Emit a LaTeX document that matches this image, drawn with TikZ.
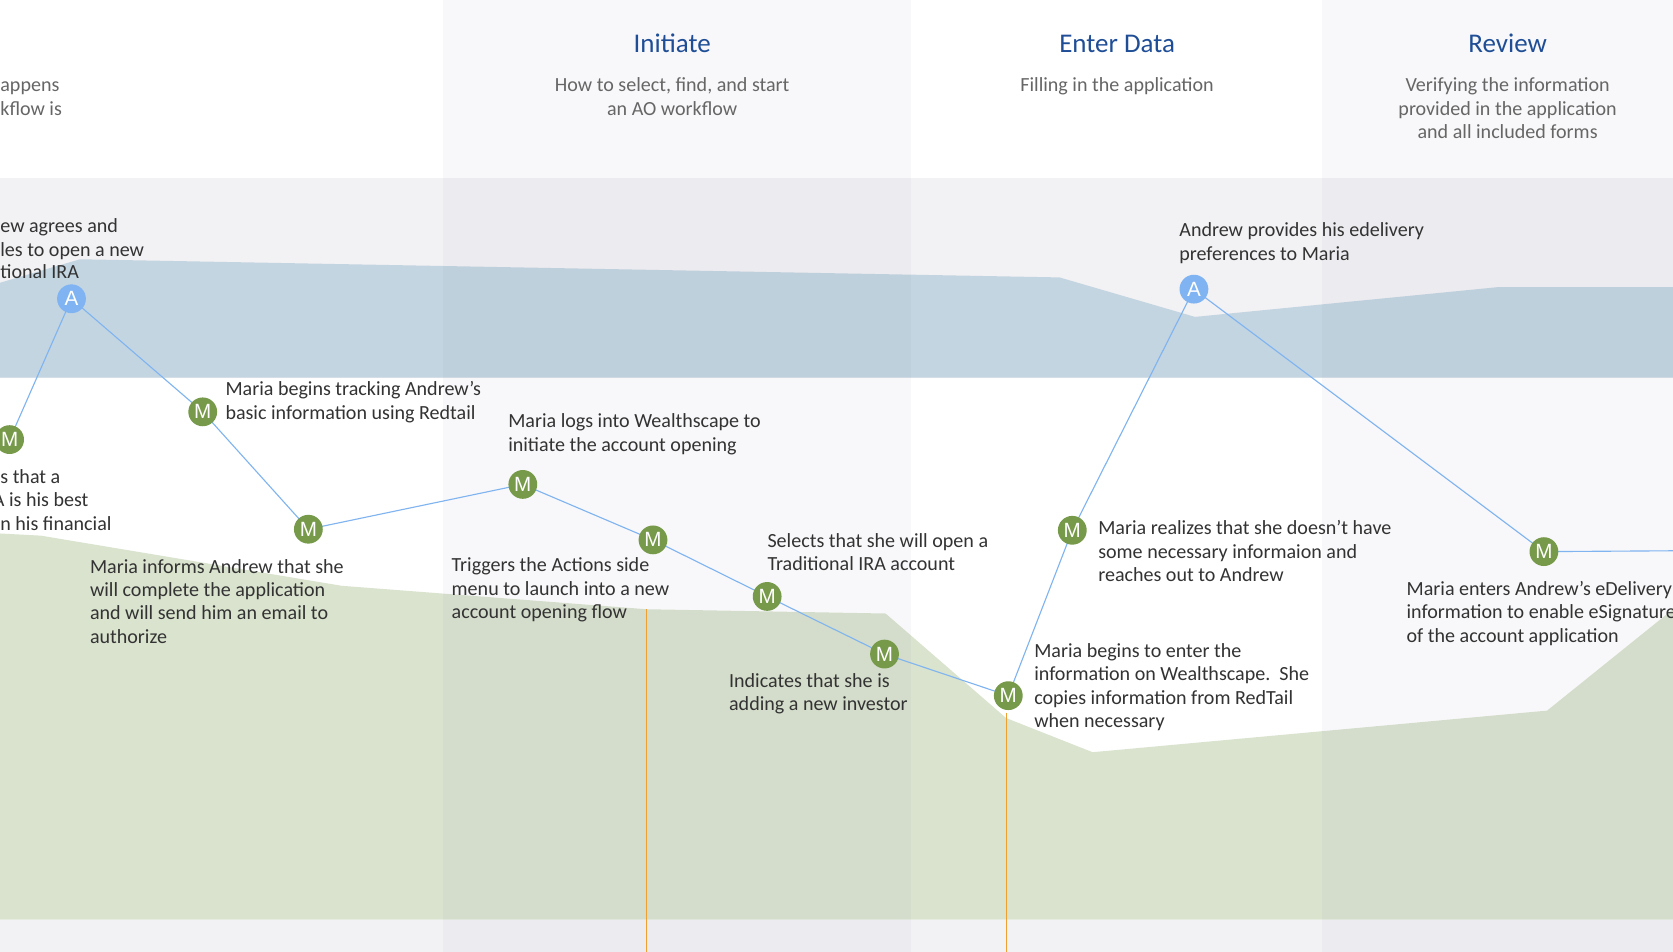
\documentclass[tikz,border=0pt]{standalone}
\usepackage{fontspec}
\setmainfont{Carlito}
\newfontfamily\mfont{Liberation Sans}
\definecolor{lanegray}{HTML}{F2F1F4}
\definecolor{laneblue}{HTML}{C3D5E1}
\definecolor{lanegreen}{HTML}{D9E3CE}
\definecolor{colshade}{HTML}{6E6E8C}
\definecolor{mgreen}{HTML}{76994A}
\definecolor{ablue}{HTML}{7FB3F2}
\definecolor{linkblue}{HTML}{80B4F0}
\definecolor{txt}{HTML}{333333}
\definecolor{subgray}{HTML}{666666}
\definecolor{ttlblue}{HTML}{1F4E96}
\definecolor{orangeline}{HTML}{F0A030}
\pgfdeclarelayer{back}
\pgfdeclarelayer{lines}
\pgfsetlayers{back,lines,main}
\begin{document}
\begin{tikzpicture}[x=0.02cm,y=-0.02cm,
  body/.style={font=\fontsize{10.7}{12.5}\selectfont, text=txt, align=left, inner sep=0pt, anchor=base west},
  cutl/.style={font=\fontsize{10.7}{12.5}\selectfont, text=subgray, inner sep=0pt, anchor=base west},
  subt/.style={font=\fontsize{10.7}{12.5}\selectfont, text=subgray, align=center, inner sep=0pt, anchor=base},
  ttl/.style={font=\fontsize{14.4}{16}\selectfont, text=ttlblue, inner sep=0pt, anchor=base},
  mnode/.style={circle, fill=mgreen, minimum size=0.54cm, inner sep=0pt, text=white, font=\mfont\fontsize{11}{11}\selectfont},
  anode/.style={circle, fill=ablue, minimum size=0.54cm, inner sep=0pt, text=white, font=\mfont\fontsize{11}{11}\selectfont},
  link/.style={draw=linkblue, line width=0.6pt},
  markline/.style={draw=orangeline, line width=0.7pt}]
\useasboundingbox (0,0) rectangle (1568,892);
\begin{pgfonlayer}{back}
\clip (0,0) rectangle (1568,892);
\fill[white] (0,0) rectangle (1568,892);
\fill[lanegray] (0,167) rectangle (1568,354);
\fill[lanegray] (0,862) rectangle (1568,892);
\fill[laneblue] (0,265) -- (75,243) -- (993,260) -- (1120,297) -- (1405,269) -- (1568,269) -- (1568,354) -- (0,354) -- cycle;
\fill[lanegreen] (0,500) -- (38,502) -- (320,549) -- (606,571) -- (830,575) -- (943,673) -- (1024,705) -- (1450,666) -- (1568,571) -- (1568,862) -- (0,862) -- cycle;
\fill[colshade, opacity=0.045] (415,0) rectangle (854,892);
\fill[colshade, opacity=0.045] (1239,0) rectangle (1568,892);
\coordinate (o1t) at (606,571);
\coordinate (o1b) at (606,892);
\coordinate (o2t) at (943,668);
\coordinate (o2b) at (943,892);
\draw[markline] (o1t) -- (o1b);
\draw[markline] (o2t) -- (o2b);
\end{pgfonlayer}
\clip (0,0) rectangle (1568,892);
% header
\node[cutl] (h0a) at (0,86) {appens};
\node[cutl] (h0b) at (0,108) {kflow is};
\node[ttl] (t1) at (630,49) {Initiate};
\node[subt] (s1) at (630,108) {How to select, find, and start\\an AO workflow};
\node[ttl] (t2) at (1047,49) {Enter Data};
\node[subt] (s2) at (1047,86) {Filling in the application};
\node[ttl] (t3) at (1413,49) {Review};
\node[subt] (s3) at (1413,130) {Verifying the information\\provided in the application\\and all included forms};
% nodes
\coordinate (prev) at (-30,388);
\coordinate (next) at (1600,516);
\node[mnode] (m0) at (9,412) {M};
\node[anode] (a1) at (67,280) {A};
\node[mnode] (m1) at (190,386) {M};
\node[mnode] (m2) at (289,496) {M};
\node[mnode] (m3) at (490,454) {M};
\node[mnode] (m4) at (612,506) {M};
\node[mnode] (m5) at (719,559) {M};
\node[mnode] (m6) at (829,613) {M};
\node[mnode] (m7) at (945,652) {M};
\node[mnode] (m8) at (1005,497) {M};
\node[anode] (a2) at (1119,271) {A};
\node[mnode] (m9) at (1447,517) {M};
\begin{pgfonlayer}{lines}
\draw[link] (prev) -- (m0.center);
\draw[link] (m0.center) -- (a1.center);
\draw[link] (a1.center) -- (m1.center);
\draw[link] (m1.center) -- (m2.center);
\draw[link] (m2.center) -- (m3.center);
\draw[link] (m3.center) -- (m4.center);
\draw[link] (m4.center) -- (m5.center);
\draw[link] (m5.center) -- (m6.center);
\draw[link] (m6.center) -- (m7.center);
\draw[link] (m7.center) -- (m8.center);
\draw[link] (m8.center) -- (a2.center);
\draw[link] (a2.center) -- (m9.center);
\draw[link] (m9.center) -- (next);
\end{pgfonlayer}
% labels (anchor = baseline of the last line)
\node[body] (l1a) at (0,218) {ew agrees and};
\node[body] (l1b) at (0,240) {les to open a new};
\node[body] (l1c) at (0,261) {tional IRA};
\node[body] (l2) at (211,393) {Maria begins tracking Andrew's\\basic information using Redtail};
\node[body] (l3a) at (0,453) {s that a};
\node[body] (l3b) at (-7,475) {A is his best};
\node[body] (l3c) at (0,497) {n his financial};
\node[body] (l4) at (84,603) {Maria informs Andrew that she\\will complete the application\\and will send him an email to\\authorize};
\node[body] (l5) at (476,423) {Maria logs into Wealthscape to\\initiate the account opening};
\node[body] (l6) at (423,580) {Triggers the Actions side\\menu to launch into a new\\account opening flow};
\node[body] (l7) at (719,535) {Selects that she will open a\\Traditional IRA account};
\node[body] (l8) at (683,666) {Indicates that she is\\adding a new investor};
\node[body] (l9) at (969,682) {Maria begins to enter the\\information on Wealthscape.\ \ She\\copies information from RedTail\\when necessary};
\node[body] (l10) at (1029,545) {Maria realizes that she doesn't have\\some necessary informaion and\\reaches out to Andrew};
\node[body] (l11) at (1105,244) {Andrew provides his edelivery\\preferences to Maria};
\node[body] (l12) at (1318,602) {Maria enters Andrew's eDelivery\\information to enable eSignatures\\of the account application};
\end{tikzpicture}
\end{document}
